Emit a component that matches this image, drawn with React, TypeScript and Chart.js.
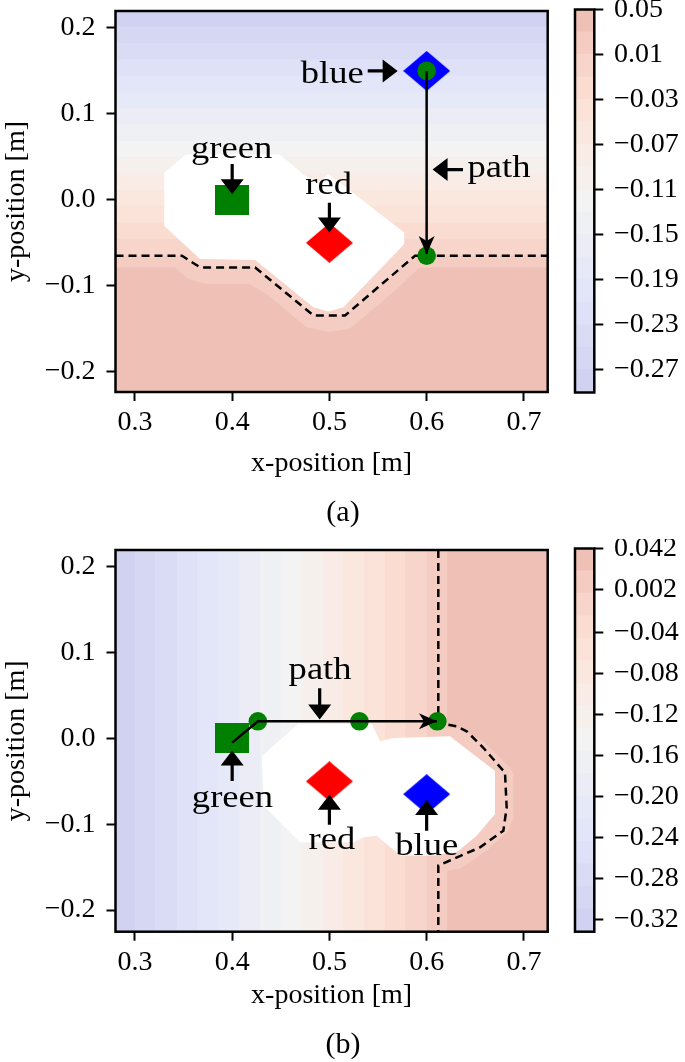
import React, { useEffect, useRef } from "react";
import { Chart, registerables } from "chart.js";
Chart.register(...registerables);

type Pt = [number, number];

const FONT = '"Liberation Serif", "Times New Roman", serif';
Chart.defaults.font.family = FONT;

// ---------------- axes ----------------
const xTicks = [0.3, 0.4, 0.5, 0.6, 0.7];
const xTickLabels = ["0.3", "0.4", "0.5", "0.6", "0.7"];
const yTicks = [-0.2, -0.1, 0.0, 0.1, 0.2];
const yTickLabels = ["−0.2", "−0.1", "0.0", "0.1", "0.2"];
const xRange: Pt = [0.28, 0.7245];
const yRangeA: Pt = [-0.2235, 0.2197];
const yRangeB: Pt = [-0.2251, 0.2192];

// ---------------- colorbars ----------------
const cbLevelsA = [-0.29, -0.27, -0.25, -0.23, -0.21, -0.19, -0.17, -0.15, -0.13, -0.11, -0.09, -0.07, -0.05, -0.03, -0.01, 0.01, 0.03, 0.05];
const cbTicksA = [0.05, 0.01, -0.03, -0.07, -0.11, -0.15, -0.19, -0.23, -0.27];
const cbTickLabelsA = ["0.05", "0.01", "−0.03", "−0.07", "−0.11", "−0.15", "−0.19", "−0.23", "−0.27"];
const cbLevelsB = [-0.332, -0.31, -0.288, -0.266, -0.244, -0.222, -0.2, -0.178, -0.156, -0.134, -0.112, -0.09, -0.068, -0.046, -0.024, -0.002, 0.02, 0.042];
const cbTicksB = [0.042, 0.002, -0.04, -0.08, -0.12, -0.16, -0.2, -0.24, -0.28, -0.32];
const cbTickLabelsB = ["0.042", "0.002", "−0.04", "−0.08", "−0.12", "−0.16", "−0.20", "−0.24", "−0.28", "−0.32"];

// ---------------- panel (a) ----------------
const bandEdgesYA = [0.201, 0.182, 0.163, 0.144, 0.125, 0.106, 0.087, 0.068, 0.049, 0.03, 0.011, -0.008, -0.027, -0.046, -0.065];
const lowerLightA: Pt[] = [[0.28, -0.0786], [0.3411, -0.0786], [0.3547, -0.092], [0.3726, -0.0978], [0.4175, -0.0978], [0.4355, -0.1094], [0.4759, -0.148], [0.4983, -0.1538], [0.5208, -0.15], [0.5657, -0.1075], [0.5926, -0.0786], [0.7245, -0.0786]];
const dashedA: Pt[] = [[0.28, -0.065], [0.3483, -0.065], [0.3671, -0.0786], [0.4236, -0.0786], [0.4836, -0.1345], [0.5161, -0.1345], [0.588, -0.065], [0.7245, -0.065]];
const obstacleA: Pt[] = [[0.3301, 0.0314], [0.3524, 0.0527], [0.4489, 0.0527], [0.474, 0.029], [0.487, 0.019], [0.499, 0.03], [0.5769, -0.038], [0.5769, -0.0515], [0.5144, -0.1249], [0.499, -0.13], [0.4836, -0.1249], [0.4236, -0.07], [0.3671, -0.0689], [0.3301, -0.0303]];
const pathA: Pt[] = [[0.6, 0.15], [0.6, -0.063]];
const waypointsA: Pt[] = [[0.6, 0.15], [0.6, -0.065]];
const greenA: Pt = [0.4, 0.0];
const redA: Pt = [0.5, -0.05];
const blueA: Pt = [0.6, 0.15];
const labelsA = [
  { text: "blue", at: [0.5029, 0.1355] as Pt, from: [0.5394, 0.15] as Pt, to: [0.5702, 0.15] as Pt },
  { text: "path", at: [0.6744, 0.0264] as Pt, from: [0.6374, 0.0352] as Pt, to: [0.6061, 0.0352] as Pt },
  { text: "green", at: [0.3995, 0.049] as Pt, from: [0.4, 0.0418] as Pt, to: [0.4, 0.0064] as Pt },
  { text: "red", at: [0.4992, 0.0064] as Pt, from: [0.5, -0.0033] as Pt, to: [0.5, -0.038] as Pt },
];

// ---------------- panel (b) ----------------
const bandEdgesXB = [0.3, 0.321, 0.343, 0.364, 0.386, 0.407, 0.428, 0.45, 0.471, 0.493, 0.514, 0.535, 0.557, 0.578, 0.6, 0.621];
const haloB: Pt[] = [[0.621, 0.0121], [0.6343, 0.0121], [0.6583, -0.0034], [0.6857, -0.0343], [0.6891, -0.0419], [0.6891, -0.0921], [0.684, -0.1075], [0.6618, -0.1307], [0.6343, -0.1519], [0.6223, -0.1538], [0.621, -0.1576]];
const obstacleB: Pt[] = [[0.4305, -0.0207], [0.468, 0.0167], [0.5436, 0.0167], [0.5521, -0.0034], [0.5658, 0.0005], [0.624, 0.0024], [0.6703, -0.038], [0.6703, -0.0882], [0.6515, -0.1133], [0.6309, -0.1326], [0.607, -0.1365], [0.5727, -0.1365], [0.5487, -0.1133], [0.535, -0.1153], [0.5247, -0.121], [0.4699, -0.121], [0.4322, -0.0786]];
const dashedB: Pt[] = [[0.612, 0.2192], [0.612, 0.0198], [0.6207, 0.016], [0.631, 0.014], [0.6412, 0.0082], [0.6583, -0.011], [0.6806, -0.04], [0.6823, -0.0806], [0.6789, -0.1075], [0.6549, -0.1269], [0.624, -0.1422], [0.612, -0.148], [0.612, -0.2251]];
const pathB: Pt[] = [[0.4, -0.005], [0.4264, 0.0198], [0.6106, 0.0198]];
const waypointsB: Pt[] = [[0.4264, 0.0198], [0.5309, 0.0198], [0.611, 0.0198]];
const greenB: Pt = [0.4, 0.0];
const redB: Pt = [0.5, -0.05];
const blueB: Pt = [0.6, -0.065];
const labelsB = [
  { text: "path", at: [0.4904, 0.0689] as Pt, from: [0.49, 0.0584] as Pt, to: [0.49, 0.0218] as Pt },
  { text: "green", at: [0.4003, -0.0797] as Pt, from: [0.4, -0.0496] as Pt, to: [0.4, -0.0141] as Pt },
  { text: "red", at: [0.5025, -0.1287] as Pt, from: [0.5, -0.1005] as Pt, to: [0.5, -0.0658] as Pt },
  { text: "blue", at: [0.6001, -0.1364] as Pt, from: [0.6, -0.1075] as Pt, to: [0.6, -0.0719] as Pt },
];

// ---------------- styles ----------------
const CMAP_STOPS: [number, number[]][] = [
  [0, [207, 208, 240]],
  [0.25, [225, 229, 248]],
  [0.5, [243, 243, 243]],
  [0.625, [249, 236, 229]],
  [0.75, [252, 226, 215]],
  [0.875, [247, 210, 199]],
  [1, [237, 188, 177]],
];
function cmap(t: number): string {
  for (let i = 0; i < CMAP_STOPS.length - 1; i++) {
    const [t0, c0] = CMAP_STOPS[i];
    const [t1, c1] = CMAP_STOPS[i + 1];
    if (t <= t1) {
      const f = (t - t0) / (t1 - t0);
      const c = c0.map((v, k) => Math.round(v + (c1[k] - v) * f));
      return `rgb(${c[0]},${c[1]},${c[2]})`;
    }
  }
  const c = CMAP_STOPS[CMAP_STOPS.length - 1][1];
  return `rgb(${c[0]},${c[1]},${c[2]})`;
}
const NB = 17;
const BAND = Array.from({ length: NB }, (_, i) => cmap((i + 0.5) / NB));
const TICK_FONT = { family: FONT, size: 28 };
const LABEL_FONT_SIZE = 31;
const LABEL_STRETCH = 1.18;
const GREEN = "#008000";

function polyPath(ctx: CanvasRenderingContext2D, pts: Pt[], X: (v: number) => number, Y: (v: number) => number) {
  ctx.beginPath();
  pts.forEach(([x, y], i) => (i === 0 ? ctx.moveTo(X(x), Y(y)) : ctx.lineTo(X(x), Y(y))));
  ctx.closePath();
}

function drawArrow(ctx: CanvasRenderingContext2D, x0: number, y0: number, x1: number, y1: number) {
  const headLen = 15, headW = 23, shaftW = 3.2;
  const dx = x1 - x0, dy = y1 - y0, L = Math.hypot(dx, dy);
  const ux = dx / L, uy = dy / L, nx = -uy, ny = ux;
  const bx = x1 - ux * headLen, by = y1 - uy * headLen;
  ctx.beginPath();
  ctx.moveTo(x0 + nx * shaftW / 2, y0 + ny * shaftW / 2);
  ctx.lineTo(bx + nx * shaftW / 2, by + ny * shaftW / 2);
  ctx.lineTo(bx + nx * headW / 2, by + ny * headW / 2);
  ctx.lineTo(x1, y1);
  ctx.lineTo(bx - nx * headW / 2, by - ny * headW / 2);
  ctx.lineTo(bx - nx * shaftW / 2, by - ny * shaftW / 2);
  ctx.lineTo(x0 - nx * shaftW / 2, y0 - ny * shaftW / 2);
  ctx.closePath();
  ctx.fillStyle = "#000";
  ctx.fill();
}

function drawPathHead(ctx: CanvasRenderingContext2D, x0: number, y0: number, x1: number, y1: number) {
  const len = 18, w = 16, notch = 5;
  const dx = x1 - x0, dy = y1 - y0, L = Math.hypot(dx, dy);
  const ux = dx / L, uy = dy / L, nx = -uy, ny = ux;
  ctx.beginPath();
  ctx.moveTo(x1, y1);
  ctx.lineTo(x1 - ux * len + nx * w / 2, y1 - uy * len + ny * w / 2);
  ctx.lineTo(x1 - ux * (len - notch), y1 - uy * (len - notch));
  ctx.lineTo(x1 - ux * len - nx * w / 2, y1 - uy * len - ny * w / 2);
  ctx.closePath();
  ctx.fillStyle = "#000";
  ctx.fill();
}

type Label = { text: string; at: Pt; from: Pt; to: Pt };

function panelPlugin(
  drawBg: (ctx: CanvasRenderingContext2D, X: (v: number) => number, Y: (v: number) => number, ca: any) => void,
  labels: Label[],
  path: Pt[],
  caption: string,
  captionY: number
) {
  return {
    id: "panelDecor",
    beforeDatasetsDraw(chart: any) {
      const { ctx, chartArea: ca, scales } = chart;
      const X = (v: number) => scales.x.getPixelForValue(v);
      const Y = (v: number) => scales.y.getPixelForValue(v);
      ctx.save();
      ctx.beginPath();
      ctx.rect(ca.left, ca.top, ca.right - ca.left, ca.bottom - ca.top);
      ctx.clip();
      drawBg(ctx, X, Y, ca);
      ctx.restore();
    },
    afterDatasetsDraw(chart: any) {
      const { ctx, scales } = chart;
      const X = (v: number) => scales.x.getPixelForValue(v);
      const Y = (v: number) => scales.y.getPixelForValue(v);
      ctx.save();
      const n = path.length;
      drawPathHead(ctx, X(path[n - 2][0]), Y(path[n - 2][1]), X(path[n - 1][0]), Y(path[n - 1][1]));
      for (const l of labels) {
        drawArrow(ctx, X(l.from[0]), Y(l.from[1]), X(l.to[0]), Y(l.to[1]));
        ctx.save();
        ctx.translate(X(l.at[0]), Y(l.at[1]));
        ctx.scale(LABEL_STRETCH, 1);
        ctx.font = `${LABEL_FONT_SIZE}px ${FONT}`;
        ctx.fillStyle = "#000";
        ctx.textAlign = "center";
        ctx.textBaseline = "alphabetic";
        ctx.fillText(l.text, 0, 0);
        ctx.restore();
      }
      ctx.restore();
    },
    afterDraw(chart: any) {
      const { ctx, chartArea: ca } = chart;
      ctx.save();
      ctx.strokeStyle = "#000";
      ctx.lineWidth = 2.5;
      ctx.strokeRect(ca.left, ca.top, ca.right - ca.left, ca.bottom - ca.top);
      ctx.font = `30px ${FONT}`;
      ctx.fillStyle = "#000";
      ctx.textAlign = "center";
      ctx.textBaseline = "middle";
      ctx.fillText(caption, 343, captionY);
      ctx.restore();
    },
  };
}

function makeShape(w: number, h: number, color: string, kind: "diamond" | "rect") {
  const c = document.createElement("canvas");
  c.width = w;
  c.height = h;
  const g = c.getContext("2d")!;
  g.fillStyle = color;
  if (kind === "rect") {
    g.fillRect(0, 0, w, h);
  } else {
    g.beginPath();
    g.moveTo(w / 2, 0);
    g.lineTo(w, h / 2);
    g.lineTo(w / 2, h);
    g.lineTo(0, h / 2);
    g.closePath();
    g.fill();
  }
  return c;
}

const toXY = (pts: Pt[]) => pts.map(([x, y]) => ({ x, y }));

function makePanel(
  canvas: HTMLCanvasElement,
  p: {
    yRange: Pt; padTop: number; xAxisH: number; titlePadBottom: number;
    dashed: Pt[]; path: Pt[]; waypoints: Pt[]; green: Pt; red: Pt; blue: Pt;
    labels: Label[]; drawBg: any; caption: string; captionY: number;
  }
) {
  const sq = makeShape(34, 30, GREEN, "rect");
  const rd = makeShape(47, 40, "#ff0000", "diamond");
  const bd = makeShape(47, 40, "#0000ff", "diamond");
  return new Chart(canvas, {
    type: "scatter",
    data: {
      datasets: [
        { data: toXY(p.path), showLine: true, borderColor: "#000", borderWidth: 2.5, pointRadius: 0, order: 1 } as any,
        { data: toXY(p.waypoints), pointStyle: "circle", pointRadius: 9.3, backgroundColor: GREEN, borderWidth: 0, order: 2 },
        { data: toXY([p.green]), pointStyle: sq, pointRadius: 10, order: 3 },
        { data: toXY([p.red]), pointStyle: rd, pointRadius: 10, order: 3 },
        { data: toXY([p.blue]), pointStyle: bd, pointRadius: 10, order: 3 },
        { data: toXY(p.dashed), showLine: true, borderColor: "#000", borderWidth: 2.5, borderDash: [8, 5], pointRadius: 0, order: 4 } as any,
      ],
    },
    options: {
      animation: false,
      responsive: false,
      maintainAspectRatio: false,
      events: [],
      layout: { padding: { top: p.padTop, right: 22.3, left: 0, bottom: 0 } },
      plugins: { legend: { display: false }, tooltip: { enabled: false } },
      scales: {
        x: {
          type: "linear",
          min: xRange[0],
          max: xRange[1],
          afterBuildTicks: (ax: any) => { ax.ticks = xTicks.map((v) => ({ value: v })); },
          ticks: { callback: (_v: any, i: number) => xTickLabels[i], font: TICK_FONT, color: "#000", padding: 5, maxRotation: 0, autoSkip: false },
          grid: { drawOnChartArea: false, drawTicks: true, tickLength: 9, tickWidth: 2, tickColor: "#000" },
          border: { display: false },
          title: { display: true, text: "x-position [m]", font: TICK_FONT, color: "#000", padding: { top: 0, bottom: p.titlePadBottom } },
          afterFit: (s: any) => { s.height = p.xAxisH; s.paddingLeft = 0; s.paddingRight = 0; },
        },
        y: {
          type: "linear",
          min: p.yRange[0],
          max: p.yRange[1],
          afterBuildTicks: (ax: any) => { ax.ticks = yTicks.map((v) => ({ value: v })); },
          ticks: { callback: (_v: any, i: number) => yTickLabels[i], font: TICK_FONT, color: "#000", padding: 11, autoSkip: false },
          grid: { drawOnChartArea: false, drawTicks: true, tickLength: 9, tickWidth: 2, tickColor: "#000" },
          border: { display: false },
          title: { display: true, text: "y-position [m]", font: TICK_FONT, color: "#000", padding: { top: 0, bottom: 0 } },
          afterFit: (s: any) => { s.width = 115.5; s.paddingTop = 0; s.paddingBottom = 0; },
        },
      },
    } as any,
    plugins: [panelPlugin(p.drawBg, p.labels, p.path, p.caption, p.captionY)],
  });
}

function makeColorbar(canvas: HTMLCanvasElement, levels: number[], ticks: number[], labels: string[], padTop: number, padBottom: number) {
  const datasets = BAND.map((c, i) => ({
    data: [[levels[i], levels[i + 1]]],
    backgroundColor: c,
    borderWidth: 0,
    grouped: false,
    barPercentage: 1,
    categoryPercentage: 1,
    inflateAmount: 0.6,
  }));
  return new Chart(canvas, {
    type: "bar",
    data: { labels: [""], datasets: datasets as any },
    options: {
      animation: false,
      responsive: false,
      maintainAspectRatio: false,
      events: [],
      layout: { padding: { left: 15, top: padTop, bottom: padBottom, right: 0 } },
      plugins: { legend: { display: false }, tooltip: { enabled: false } },
      scales: {
        x: { display: false },
        y: {
          position: "right",
          min: levels[0],
          max: levels[levels.length - 1],
          afterBuildTicks: (ax: any) => { ax.ticks = ticks.map((v) => ({ value: v })); },
          ticks: { callback: (_v: any, i: number) => labels[i], font: TICK_FONT, color: "#000", padding: 10.7, autoSkip: false },
          grid: { drawOnChartArea: false, drawTicks: true, tickLength: 9, tickWidth: 2, tickColor: "#000" },
          border: { display: false },
          afterFit: (s: any) => { s.width = 90.7; s.paddingTop = 0; s.paddingBottom = 0; },
        },
      },
    } as any,
    plugins: [
      {
        id: "cbFrame",
        afterDraw(chart: any) {
          const { ctx, chartArea: ca } = chart;
          ctx.save();
          ctx.strokeStyle = "#000";
          ctx.lineWidth = 2.5;
          ctx.strokeRect(ca.left, ca.top, ca.right - ca.left, ca.bottom - ca.top);
          ctx.restore();
        },
      },
    ],
  });
}

function drawBgA(ctx: CanvasRenderingContext2D, X: (v: number) => number, Y: (v: number) => number, ca: any) {
  ctx.fillStyle = BAND[16];
  ctx.fillRect(ca.left, ca.top, ca.right - ca.left, ca.bottom - ca.top);
  const lightPoly: Pt[] = [[xRange[0], yRangeA[1]], [xRange[1], yRangeA[1]], ...lowerLightA.slice().reverse()];
  polyPath(ctx, lightPoly, X, Y);
  ctx.fillStyle = BAND[15];
  ctx.fill();
  for (let i = 0; i < bandEdgesYA.length; i++) {
    const top = i === 0 ? yRangeA[1] : bandEdgesYA[i - 1];
    const bot = bandEdgesYA[i];
    ctx.fillStyle = BAND[i];
    const yt = Y(top), yb = Y(bot);
    ctx.fillRect(ca.left, yt - (i === 0 ? 2 : 0.5), ca.right - ca.left, yb - yt + (i === 0 ? 2 : 0.5));
  }
  polyPath(ctx, dashedA, X, Y);
  ctx.fillStyle = BAND[14];
  ctx.fill();
  polyPath(ctx, obstacleA, X, Y);
  ctx.fillStyle = "#ffffff";
  ctx.fill();
}

function drawBgB(ctx: CanvasRenderingContext2D, X: (v: number) => number, Y: (v: number) => number, ca: any) {
  const n = bandEdgesXB.length;
  for (let i = 0; i <= n; i++) {
    const l = i === 0 ? X(xRange[0]) - 2 : X(bandEdgesXB[i - 1]);
    const r = i === n ? X(xRange[1]) + 2 : X(bandEdgesXB[i]) + 0.5;
    ctx.fillStyle = BAND[i];
    ctx.fillRect(l, ca.top, r - l, ca.bottom - ca.top);
  }
  polyPath(ctx, haloB, X, Y);
  ctx.fillStyle = BAND[15];
  ctx.fill();
  polyPath(ctx, obstacleB, X, Y);
  ctx.fillStyle = "#ffffff";
  ctx.fill();
}

export default function App() {
  const aRef = useRef<HTMLCanvasElement>(null);
  const cbARef = useRef<HTMLCanvasElement>(null);
  const bRef = useRef<HTMLCanvasElement>(null);
  const cbBRef = useRef<HTMLCanvasElement>(null);

  useEffect(() => {
    const charts: Chart[] = [];
    charts.push(
      makePanel(aRef.current!, {
        yRange: yRangeA, padTop: 9, xAxisH: 138, titlePadBottom: 49.2,
        dashed: dashedA, path: pathA, waypoints: waypointsA, green: greenA, red: redA, blue: blueA,
        labels: labelsA, drawBg: drawBgA, caption: "(a)", captionY: 513,
      })
    );
    charts.push(makeColorbar(cbARef.current!, cbLevelsA, cbTicksA, cbTickLabelsA, 9.5, 17.5));
    charts.push(
      makePanel(bRef.current!, {
        yRange: yRangeB, padTop: 8.7, xAxisH: 130.3, titlePadBottom: 49.2,
        dashed: dashedB, path: pathB, waypoints: waypointsB, green: greenB, red: redB, blue: blueB,
        labels: labelsB, drawBg: drawBgB, caption: "(b)", captionY: 506,
      })
    );
    charts.push(makeColorbar(cbBRef.current!, cbLevelsB, cbTicksB, cbTickLabelsB, 9.5, 17.3));
    return () => charts.forEach((c) => c.destroy());
  }, []);

  return (
    <div style={{ position: "absolute", left: 0, top: 0, width: 685, height: 1062, overflow: "hidden", background: "#fff" }}>
      <canvas ref={aRef} width={570} height={530} style={{ position: "absolute", left: 0, top: 0 }} />
      <canvas ref={cbARef} width={125} height={410} style={{ position: "absolute", left: 560, top: 0 }} />
      <canvas ref={bRef} width={570} height={523} style={{ position: "absolute", left: 0, top: 539 }} />
      <canvas ref={cbBRef} width={125} height={410} style={{ position: "absolute", left: 560, top: 539 }} />
    </div>
  );
}
